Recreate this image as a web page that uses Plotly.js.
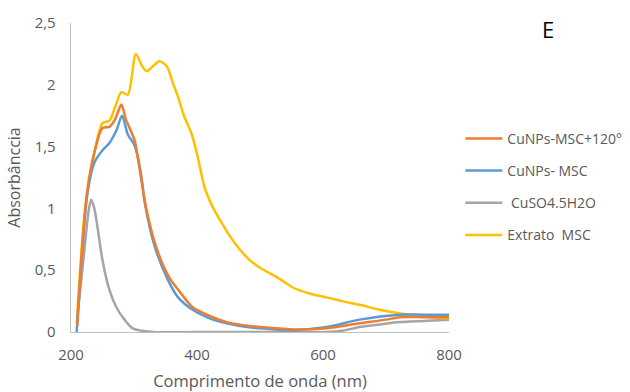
<!DOCTYPE html>
<html>
<head>
<meta charset="utf-8">
<script src="https://cdn.plot.ly/plotly-3.0.1.min.js"></script>
<style>html,body{margin:0;padding:0;background:#fff;}#chart{width:630px;height:392px;}</style>
</head>
<body>
<div id="chart"></div>
<script>
// Series names
const names = ["CuNPs-MSC+120°", "CuNPs- MSC", "\u00a0CuSO4.5H2O", "Extrato\u00a0\u00a0MSC"];

// Orange: CuNPs-MSC+120°
const orangeX = [210, 218, 226, 237, 250, 261, 270, 280, 287, 293, 301, 306, 312, 319, 335, 356, 372, 393, 420, 447, 480, 526, 560, 606, 658, 700, 722, 760, 800];
const orangeY = [0.05, 0.70, 1.15, 1.45, 1.65, 1.66, 1.72, 1.84, 1.72, 1.65, 1.55, 1.41, 1.22, 1.01, 0.69, 0.44, 0.33, 0.20, 0.13, 0.08, 0.05, 0.03, 0.02, 0.03, 0.07, 0.10, 0.12, 0.12, 0.12];

// Blue: CuNPs- MSC
const blueX = [209, 218, 226, 237, 250, 261, 272, 281, 290, 300, 306, 312, 317, 333, 354, 370, 393, 420, 447, 480, 526, 552, 606, 658, 722, 760, 800];
const blueY = [0.0, 0.66, 1.12, 1.37, 1.47, 1.53, 1.63, 1.75, 1.60, 1.52, 1.42, 1.25, 1.05, 0.69, 0.42, 0.28, 0.18, 0.11, 0.07, 0.04, 0.02, 0.015, 0.04, 0.10, 0.14, 0.14, 0.14];

// Gray: CuSO4.5H2O
const grayX = [209, 220, 228, 232, 237, 242, 250, 261, 272, 285, 298, 330, 400, 500, 606, 630, 658, 690, 722, 760, 800];
const grayY = [0.07, 0.60, 0.98, 1.07, 1.00, 0.85, 0.58, 0.34, 0.20, 0.10, 0.03, 0.0, 0.0, 0.0, 0.0, 0.01, 0.04, 0.06, 0.08, 0.09, 0.10];

// Yellow: Extrato MSC
const yellowX = [210, 221, 229, 237, 250, 261, 270, 280, 290, 303, 312, 320, 330, 340, 352, 362, 370, 380, 391, 401, 412, 425, 436, 449, 466, 484, 500, 531, 552, 580, 606, 630, 658, 690, 711, 738, 770, 800];
const yellowY = [0.16, 0.93, 1.23, 1.45, 1.69, 1.71, 1.82, 1.94, 1.92, 2.25, 2.16, 2.11, 2.15, 2.19, 2.15, 2.01, 1.90, 1.74, 1.61, 1.42, 1.17, 1.01, 0.91, 0.80, 0.68, 0.58, 0.52, 0.43, 0.36, 0.31, 0.28, 0.25, 0.22, 0.18, 0.16, 0.14, 0.12, 0.11];

const xTicks = [200, 400, 600, 800];
const yTicks = [0, 0.5, 1, 1.5, 2, 2.5];

const colors = ["#ED7D31", "#5B9BD5", "#A5A5A5", "#FFC000"];
const seriesX = [orangeX, blueX, grayX, yellowX];
const seriesY = [orangeY, blueY, grayY, yellowY];

const drawOrder = [2, 3, 1, 0];
const traces = [0, 1, 2, 3].map(i => ({
  x: seriesX[i], y: seriesY[i], name: names[i], type: "scatter", mode: "lines",
  line: {color: colors[i], width: 2.5, shape: "spline", smoothing: 0.8},
  legendgroup: "g" + i, legendrank: i + 1
}));
const data = drawOrder.map(i => traces[i]);

const font = "'Open Sans', sans-serif";
const layout = {
  width: 630, height: 392,
  margin: {l: 71, r: 181, t: 23, b: 60, autoexpand: false},
  paper_bgcolor: "#fff", plot_bgcolor: "#fff",
  separators: ",.",
  font: {family: font, color: "#595959", size: 15},
  showlegend: true,
  legend: {x: 1.03, y: 0.677, xanchor: "left", yanchor: "top", tracegroupgap: 11, itemwidth: 37,
           font: {family: font, size: 14, color: "#595959"}, bgcolor: "rgba(0,0,0,0)"},
  xaxis: {range: [200, 800], tickvals: xTicks, showgrid: false, zeroline: false,
          showline: true, linecolor: "#BFBFBF", linewidth: 1.3,
          ticks: "outside", ticklen: 9, tickcolor: "rgba(0,0,0,0)",
          tickfont: {size: 15, color: "#595959"},
          title: {text: "Comprimento de onda (nm)", font: {size: 16.5, color: "#595959"}, standoff: 12}},
  yaxis: {range: [0, 2.5], tickvals: yTicks, showgrid: false, zeroline: false,
          showline: true, linecolor: "#BFBFBF", linewidth: 1.3,
          ticks: "outside", ticklen: 11, tickcolor: "rgba(0,0,0,0)",
          tickfont: {size: 15, color: "#595959"},
          title: {text: "Absorbânccia", font: {size: 16, color: "#595959"}, standoff: 10}},
  annotations: [{text: "E", xref: "paper", yref: "paper", x: (548 - 71) / 378, y: 1 - (29 - 23) / 309,
                 xanchor: "center", yanchor: "middle", showarrow: false,
                 font: {family: font, size: 22, color: "#000"}}]
};
Plotly.newPlot("chart", data, layout, {staticPlot: true});
</script>
</body>
</html>
